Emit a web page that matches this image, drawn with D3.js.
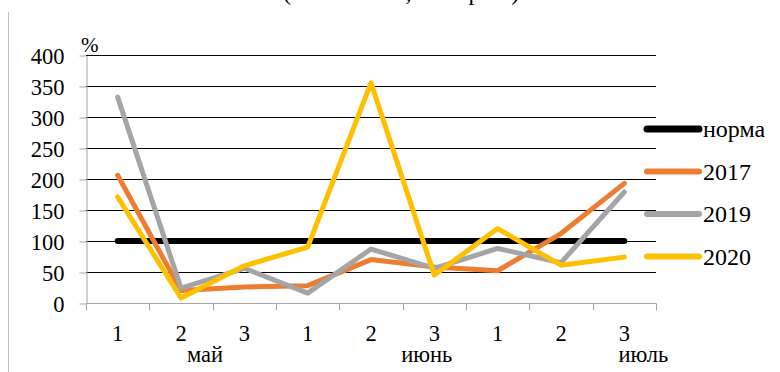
<!DOCTYPE html>
<html>
<head>
<meta charset="utf-8">
<script src="https://cdn.jsdelivr.net/npm/d3@7"></script>
<style>
  html, body { margin: 0; padding: 0; background: #fff; }
  svg { display: block; }
  svg text { font-family: "Liberation Serif", "Times New Roman", Times; }
</style>
</head>
<body>
<svg id="chart" width="780" height="372"></svg>
<script>
// Ten-day periods (декады) for May–July
const categories = ["1", "2", "3", "1", "2", "3", "1", "2", "3"];
const months = ["май", "июнь", "июль"];
const yTicks = [0, 50, 100, 150, 200, 250, 300, 350, 400];

// Values, % of normal
const norma = [100, 100, 100, 100, 100, 100, 100, 100, 100];
const y2017 = [206, 20, 26, 28, 70, 58, 52, 112, 193];
const y2019 = [332, 24, 56, 16, 87, 56, 88, 65, 179];
const y2020 = [171, 8, 60, 90, 355, 45, 120, 61, 74];

const seriesNames = ["норма", "2017", "2019", "2020"];
const seriesColors = ["#000000", "#ED7D31", "#A5A5A5", "#FFC000"];
const seriesWidths = [6, 5, 5, 5];
const seriesValues = [norma, y2017, y2019, y2020];

const FONT = '"Liberation Serif"';

const svg = d3.select("#chart");
const plotLeft = 86, plotRight = 656, plotTop = 55, plotBottom = 303;

const x = d3.scaleBand().domain(d3.range(categories.length)).range([plotLeft, plotRight]);
const y = d3.scaleLinear().domain([0, 400]).range([plotBottom, plotTop]);
// continuous position across the category bands, used for month captions
const xPos = d3.scaleLinear().domain([0, categories.length]).range([plotLeft, plotRight]);

// title line (runs off the top edge)
svg.append("text")
  .attr("x", 283).attr("y", 0)
  .attr("font-size", 24)
  .style("font-family", FONT)
  .text("(количество, % нормы)");

// outer frame edge
svg.append("line")
  .attr("x1", 8.5).attr("x2", 8.5).attr("y1", 12).attr("y2", 372)
  .attr("stroke", "#bfbfbf").attr("stroke-width", 1);

// horizontal gridlines
svg.append("g")
  .selectAll("line")
  .data(yTicks.filter(d => d > 0))
  .join("line")
  .attr("x1", plotLeft).attr("x2", plotRight)
  .attr("y1", d => Math.round(y(d)) + 0.5).attr("y2", d => Math.round(y(d)) + 0.5)
  .attr("stroke", "#000").attr("stroke-width", 1);

// y axis
const yAxis = svg.append("g")
  .attr("transform", `translate(${plotLeft + 0.5},0.5)`)
  .call(d3.axisLeft(y).tickValues(yTicks).tickSize(7).tickPadding(15).tickSizeOuter(0))
  .attr("font-family", null)
  .attr("font-size", null);
yAxis.select(".domain").attr("stroke", "#a6a6a6");
yAxis.selectAll(".tick line").attr("stroke", "#a6a6a6");
yAxis.selectAll(".tick text")
  .attr("font-size", 22.5)
  .style("font-family", FONT)
  .attr("fill", "#000").attr("dy", "0.34em");

// x axis with band boundary ticks
const xAxisG = svg.append("g")
  .attr("transform", `translate(0,${Math.round(plotBottom) + 0.5})`);
xAxisG.append("line")
  .attr("x1", plotLeft).attr("x2", plotRight + 0.5)
  .attr("stroke", "#a6a6a6");
xAxisG.selectAll("line.tk")
  .data(d3.range(categories.length + 1))
  .join("line")
  .attr("class", "tk")
  .attr("x1", d => Math.round(xPos(d)) + 0.5).attr("x2", d => Math.round(xPos(d)) + 0.5)
  .attr("y1", 0).attr("y2", 7)
  .attr("stroke", "#a6a6a6");
xAxisG.selectAll("text.cat")
  .data(categories)
  .join("text")
  .attr("class", "cat")
  .attr("x", (d, i) => x(i) + x.bandwidth() / 2)
  .attr("y", 37)
  .attr("text-anchor", "middle")
  .attr("font-size", 22.5)
  .style("font-family", FONT)
  .text(d => d);

// month captions
const monthPos = [1.88, 5.38, 8.8];
xAxisG.selectAll("text.month")
  .data(months)
  .join("text")
  .attr("class", "month")
  .attr("x", (d, i) => xPos(monthPos[i]))
  .attr("y", 58)
  .attr("text-anchor", "middle")
  .attr("font-size", 22.5)
  .style("font-family", FONT)
  .text(d => d);

// unit label
svg.append("text")
  .attr("x", 81).attr("y", 52)
  .attr("font-size", 21)
  .style("font-family", FONT)
  .text("%");

// series lines
const line = d3.line()
  .x((d, i) => x(i) + x.bandwidth() / 2)
  .y(d => y(d));

svg.append("g")
  .selectAll("path")
  .data(seriesValues)
  .join("path")
  .attr("d", d => line(d))
  .attr("fill", "none")
  .attr("stroke", (d, i) => seriesColors[i])
  .attr("stroke-width", (d, i) => seriesWidths[i])
  .attr("stroke-linecap", "round")
  .attr("stroke-linejoin", "round");

// legend
const legendRows = [129, 171.5, 214, 256.5];
const legend = svg.append("g")
  .selectAll("g")
  .data(seriesNames)
  .join("g")
  .attr("transform", (d, i) => `translate(0,${legendRows[i]})`);
legend.append("line")
  .attr("x1", 647).attr("x2", 699)
  .attr("stroke", (d, i) => seriesColors[i])
  .attr("stroke-width", (d, i) => seriesWidths[i] + 1)
  .attr("stroke-linecap", "round");
legend.append("text")
  .attr("x", 703).attr("y", 0)
  .attr("dy", "0.34em")
  .attr("font-size", 24)
  .style("font-family", FONT)
  .text(d => d);
</script>
</body>
</html>
